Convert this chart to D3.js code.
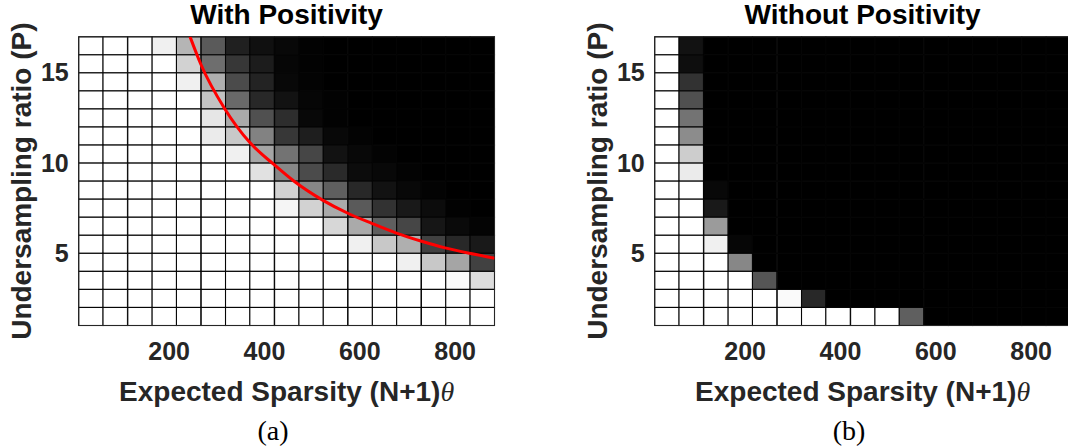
<!DOCTYPE html>
<html>
<head>
<meta charset="utf-8">
<script src="https://cdn.jsdelivr.net/npm/d3@7"></script>
<style>
  body { margin: 0; background: #fff; }
  svg { display: block; }
</style>
</head>
<body>
<svg id="chart" width="1068" height="448"></svg>
<script>
// column centres, expected sparsity (N+1)theta
var sparsity = [37, 88, 140, 191, 242, 294, 345, 396, 448, 499, 550, 602, 653, 704, 756, 807, 858];
var cellWidth = 51.3;
// row values, undersampling ratio P (each row covers P..P+1), top row first
var ratios = [16, 15, 14, 13, 12, 11, 10, 9, 8, 7, 6, 5, 4, 3, 2, 1];

var xTicks = [200, 400, 600, 800];
var yTicks = [5, 10, 15];

// grey level of each cell (255 = white), rows follow `ratios`
var withPositivity = [
  [255,255,255,240,181, 90, 32, 16,  8,  2,  0,  0,  0,  0,  0,  0,  0],
  [255,255,255,255,210,110, 55, 28,  6,  2,  0,  0,  0,  0,  0,  0,  0],
  [255,255,255,255,240,175, 75, 35,  8,  3,  0,  0,  0,  0,  0,  0,  0],
  [255,255,255,255,255,195,105, 40, 18,  6,  2,  0,  0,  0,  0,  0,  0],
  [255,255,255,255,255,230,170, 80, 45,  8,  2,  0,  0,  0,  0,  0,  0],
  [255,255,255,255,255,235,200,130, 55, 30,  8,  3,  0,  0,  0,  0,  0],
  [255,255,255,255,255,255,240,165,115, 70, 18,  8,  3,  0,  0,  0,  0],
  [255,255,255,255,255,255,255,225,135, 75, 42, 12,  8,  3,  0,  0,  0],
  [255,255,255,255,255,255,255,255,210,135, 95, 40, 18,  8,  3,  0,  0],
  [255,255,255,255,255,255,255,255,245,210,170, 90, 50, 25, 12,  2,  0],
  [255,255,255,255,255,255,255,255,255,255,215,170, 95, 70, 22, 10,  4],
  [255,255,255,255,255,255,255,255,255,255,255,240,200,175, 65, 40, 25],
  [255,255,255,255,255,255,255,255,255,255,255,255,255,240,200,165, 65],
  [255,255,255,255,255,255,255,255,255,255,255,255,255,255,255,250,220],
  [255,255,255,255,255,255,255,255,255,255,255,255,255,255,255,255,255],
  [255,255,255,255,255,255,255,255,255,255,255,255,255,255,255,255,255]
];

var withoutPositivity = [
  [255, 18,  0,  0,  0,  0,  0,  0,  0,  0,  0,  0,  0,  0,  0,  0,  0],
  [255, 14,  0,  0,  0,  0,  0,  0,  0,  0,  0,  0,  0,  0,  0,  0,  0],
  [255, 50,  0,  0,  0,  0,  0,  0,  0,  0,  0,  0,  0,  0,  0,  0,  0],
  [255, 80,  0,  0,  0,  0,  0,  0,  0,  0,  0,  0,  0,  0,  0,  0,  0],
  [255,115,  0,  0,  0,  0,  0,  0,  0,  0,  0,  0,  0,  0,  0,  0,  0],
  [255,140,  0,  0,  0,  0,  0,  0,  0,  0,  0,  0,  0,  0,  0,  0,  0],
  [255,205,  0,  0,  0,  0,  0,  0,  0,  0,  0,  0,  0,  0,  0,  0,  0],
  [255,235,  0,  0,  0,  0,  0,  0,  0,  0,  0,  0,  0,  0,  0,  0,  0],
  [255,255,  8,  0,  0,  0,  0,  0,  0,  0,  0,  0,  0,  0,  0,  0,  0],
  [255,255, 25,  0,  0,  0,  0,  0,  0,  0,  0,  0,  0,  0,  0,  0,  0],
  [255,255,155,  0,  0,  0,  0,  0,  0,  0,  0,  0,  0,  0,  0,  0,  0],
  [255,255,240,  6,  0,  0,  0,  0,  0,  0,  0,  0,  0,  0,  0,  0,  0],
  [255,255,255,135,  0,  0,  0,  0,  0,  0,  0,  0,  0,  0,  0,  0,  0],
  [255,255,255,255, 85,  0,  0,  0,  0,  0,  0,  0,  0,  0,  0,  0,  0],
  [255,255,255,255,255,250, 40,  0,  0,  0,  0,  0,  0,  0,  0,  0,  0],
  [255,255,255,255,255,255,255,255,255,255, 95,  0,  0,  0,  0,  0,  0]
];

// red boundary curve
var curveSparsity = [245, 268, 318, 370, 422, 464, 523, 576, 627, 678, 729, 780, 831, 884];
var curveRatio = [17.0, 15.45, 13.0, 11.15, 9.9, 8.98, 7.95, 7.22, 6.65, 6.12, 5.68, 5.3, 5.0, 4.73];

var svg = d3.select('#chart');

var plotW = 415.8, plotH = 288.7;
var x = d3.scaleLinear()
    .domain([sparsity[0] - cellWidth / 2, sparsity[sparsity.length - 1] + cellWidth / 2])
    .range([0, plotW]);
var y = d3.scaleLinear().domain([1, 17]).range([plotH, 0]);

var sansFont = '"Liberation Sans", Arial, sans-serif';
var serifFont = '"Liberation Serif", "Times New Roman", serif';
var textColor = '#262626';

function drawPanel(left, top, title, grid, tag, tagX) {
    var g = svg.append('g').attr('transform', 'translate(' + [left, top] + ')');

    // cells
    var cells = [];
    grid.forEach(function(row, i) {
        row.forEach(function(v, j) {
            cells.push({ s: sparsity[j], p: ratios[i], v: v });
        });
    });
    g.selectAll('.cell')
        .data(cells)
        .enter().append('rect')
        .attr('class', 'cell')
        .attr('x', function(d) { return x(d.s - cellWidth / 2); })
        .attr('y', function(d) { return y(d.p + 1); })
        .attr('width', x(cellWidth) - x(0))
        .attr('height', y(0) - y(1))
        .style('fill', function(d) { return d3.rgb(d.v, d.v, d.v); })
        .style('stroke', '#050505')
        .style('stroke-width', 1.1);

    // frame
    g.append('rect')
        .attr('width', plotW).attr('height', plotH)
        .style('fill', 'none').style('stroke', textColor).style('stroke-width', 1);

    // axes
    var xAxis = g.append('g')
        .attr('transform', 'translate(0,' + plotH + ')')
        .call(d3.axisBottom(x).tickValues(xTicks).tickSize(0).tickPadding(17));
    var yAxis = g.append('g')
        .call(d3.axisLeft(y).tickValues(yTicks).tickSize(0).tickPadding(10));
    [xAxis, yAxis].forEach(function(a) {
        a.select('.domain').remove();
        a.selectAll('text')
            .style('font-family', sansFont)
            .style('font-size', '25px')
            .style('font-weight', 'bold')
            .style('fill', textColor);
    });

    // title
    g.append('text')
        .attr('x', plotW / 2).attr('y', -12.8)
        .attr('text-anchor', 'middle')
        .style('font-family', sansFont).style('font-size', '28px').style('font-weight', 'bold')
        .style('fill', '#000')
        .text(title);

    // x label
    var xl = g.append('text')
        .attr('x', plotW / 2).attr('y', 364)
        .attr('text-anchor', 'middle')
        .style('font-family', sansFont).style('font-size', '28px').style('font-weight', 'bold')
        .style('fill', textColor);
    xl.append('tspan').text('Expected Sparsity (N+1)');
    xl.append('tspan')
        .style('font-family', serifFont)
        .style('font-style', 'italic').style('font-weight', 'normal')
        .text('\u03b8');

    // y label
    g.append('text')
        .attr('transform', 'translate(-48,' + (plotH / 2) + ') rotate(-90)')
        .attr('text-anchor', 'middle')
        .style('font-family', sansFont).style('font-size', '28px').style('font-weight', 'bold')
        .style('fill', textColor)
        .text('Undersampling ratio (P)');

    // panel tag
    svg.append('text')
        .attr('x', tagX).attr('y', 440)
        .attr('text-anchor', 'middle')
        .style('font-family', serifFont)
        .style('font-size', '28px')
        .style('fill', '#000')
        .text(tag);

    return g;
}

var gA = drawPanel(78.7, 36.8, 'With Positivity', withPositivity, '(a)', 273);
drawPanel(654.7, 36.8, 'Without Positivity', withoutPositivity, '(b)', 849);

// red curve on panel (a)
svg.append('clipPath').attr('id', 'clipA')
    .append('rect').attr('width', plotW).attr('height', plotH);

var curvePts = curveSparsity.map(function(s, i) { return [s, curveRatio[i]]; });
var line = d3.line()
    .x(function(d) { return x(d[0]); })
    .y(function(d) { return y(d[1]); })
    .curve(d3.curveMonotoneX);

gA.append('path')
    .datum(curvePts)
    .attr('clip-path', 'url(#clipA)')
    .attr('d', line)
    .style('fill', 'none')
    .style('stroke', '#ff0000')
    .style('stroke-width', 3);
</script>
</body>
</html>
